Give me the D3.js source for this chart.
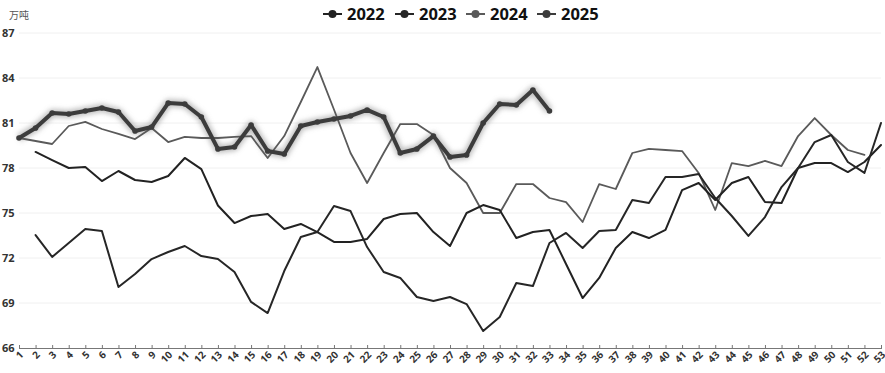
<!DOCTYPE html>
<html><head><meta charset="utf-8">
<script src="https://cdn.jsdelivr.net/npm/d3@7"></script>
<style>body{margin:0;background:#fff}svg{display:block}</style>
</head><body>
<svg id="c" width="885" height="373"></svg>
<script>
const weeks = d3.range(1, 54);
const yTicks = [66, 69, 72, 75, 78, 81, 84, 87];
const unitLabel = "万吨";
const seriesNames = ["2022", "2023", "2024", "2025"];
const s2022 = [null, 79.07, 78.53, 78.0, 78.07, 77.13, 77.8, 77.2, 77.07, 77.47, 78.67, 77.93, 75.5, 74.33, 74.8, 74.93, 73.93, 74.27, 73.73, 73.07, 73.07, 73.27, 74.6, 74.93, 75.0, 73.73, 72.8, 75.0, 75.53, 75.2, 73.33, 73.73, 73.87, 71.6, 69.33, 70.67, 72.67, 73.73, 73.33, 73.87, 76.53, 77.0, 75.87, 77.0, 77.4, 75.73, 75.67, 78.0, 78.33, 78.33, 77.73, 78.4, 79.53];
const s2023 = [null, 73.53, 72.07, 73.0, 73.93, 73.8, 70.07, 70.93, 71.93, 72.4, 72.8, 72.13, 71.93, 71.07, 69.07, 68.33, 71.13, 73.4, 73.73, 75.47, 75.13, 72.73, 71.07, 70.67, 69.4, 69.13, 69.4, 68.93, 67.13, 68.07, 70.33, 70.13, 73.0, 73.67, 72.67, 73.8, 73.87, 75.87, 75.67, 77.4, 77.4, 77.6, 76.0, 74.8, 73.47, 74.73, 76.73, 78.0, 79.73, 80.2, 78.4, 77.67, 81.0];
const s2024 = [80.0, 79.8, 79.6, 80.8, 81.07, 80.6, 80.27, 79.93, 80.67, 79.73, 80.07, 80.0, 80.0, 80.07, 80.13, 78.67, 80.13, 82.4, 84.73, 81.9, 79.0, 77.0, 79.0, 80.93, 80.93, 80.2, 78.0, 77.0, 75.0, 75.0, 76.93, 76.93, 76.0, 75.73, 74.4, 76.93, 76.6, 79.0, 79.27, 79.2, 79.13, 77.67, 75.2, 78.33, 78.13, 78.47, 78.13, 80.13, 81.33, 80.2, 79.2, 78.87];
const s2025 = [80.0, 80.67, 81.67, 81.6, 81.8, 82.0, 81.73, 80.47, 80.73, 82.33, 82.27, 81.4, 79.27, 79.4, 80.87, 79.13, 78.93, 80.8, 81.07, 81.27, 81.47, 81.87, 81.4, 79.0, 79.27, 80.13, 78.73, 78.87, 81.0, 82.27, 82.2, 83.2, 81.8];

const colors = ["#222222", "#262626", "#5a5a5a", "#3c3c3c"];
const widths = [2, 2, 1.8, 4];
const allSeries = [s2022, s2023, s2024, s2025];

const svg = d3.select("#c");
const defs = svg.append("defs");
const f = defs.append("filter").attr("id", "glow").attr("x", "-10%").attr("y", "-30%").attr("width", "120%").attr("height", "160%");
f.append("feGaussianBlur").attr("stdDeviation", 2.5);

const x = d3.scalePoint().domain(weeks).range([19, 881]);
const y = d3.scaleLinear().domain([66, 87]).range([348, 33]);

// gridlines
svg.append("g").selectAll("line").data(yTicks.slice(1)).join("line")
  .attr("x1", 19).attr("x2", 881).attr("y1", d => y(d)).attr("y2", d => y(d))
  .attr("stroke", "#f0f0f0").attr("stroke-width", 1);

// y labels
svg.append("g").selectAll("text").data(yTicks).join("text")
  .attr("x", 2).attr("y", d => y(d)).attr("dy", "0.35em")
  .attr("font-family", "Open Sans, sans-serif").attr("font-weight", "bold")
  .attr("font-size", 11).attr("fill", "#333").text(d => d);

svg.append("text").attr("x", 9).attr("y", 19)
  .attr("font-family", "Noto Sans CJK SC, sans-serif").attr("font-size", 10)
  .attr("fill", "#555").text(unitLabel);

// x axis
const xa = svg.append("g").attr("transform", "translate(0,348)")
  .call(d3.axisBottom(x).tickSize(4).tickSizeOuter(0));
xa.select(".domain").attr("stroke", "#777");
xa.selectAll(".tick line").attr("stroke", "#777").attr("y1", -3).attr("y2", 1);
xa.selectAll(".tick text")
  .attr("font-family", "Open Sans, sans-serif").attr("font-weight", "bold")
  .attr("font-size", 10).attr("fill", "#333")
  .attr("text-anchor", "end").attr("dy", "0.35em")
  .attr("transform", "translate(2,5) rotate(-45)").attr("y", 0).attr("x", 0);

const line = d3.line().defined(d => d.v != null).x(d => x(d.w)).y(d => y(d.v));
const toPts = arr => arr.map((v, i) => ({ w: weeks[i], v }));

// 2025 glow
svg.append("path").datum(toPts(s2025)).attr("d", line)
  .attr("fill", "none").attr("stroke", "#8a8a8a").attr("stroke-width", 8)
  .attr("stroke-opacity", 0.55).attr("filter", "url(#glow)")
  .attr("stroke-linejoin", "round");

[2, 0, 1, 3].forEach(i => {
  svg.append("path").datum(toPts(allSeries[i])).attr("d", line)
    .attr("fill", "none").attr("stroke", colors[i]).attr("stroke-width", widths[i])
    .attr("stroke-linejoin", "round").attr("stroke-linecap", "round");
});
svg.append("g").selectAll("circle").data(toPts(s2025)).join("circle")
  .attr("cx", d => x(d.w)).attr("cy", d => y(d.v)).attr("r", 2.8).attr("fill", colors[3]);

// legend
const lg = svg.append("g");
const legX = [323, 395, 466, 537];
seriesNames.forEach((n, i) => {
  const g = lg.append("g").attr("transform", `translate(${legX[i]},14)`);
  g.append("line").attr("x1", 0).attr("x2", 19).attr("stroke", colors[i]).attr("stroke-width", 2);
  g.append("circle").attr("cx", 9.5).attr("r", 4).attr("fill", colors[i]);
  g.append("text").attr("x", 24).attr("dy", "0.36em")
    .attr("font-family", "Open Sans, sans-serif").attr("font-weight", "bold")
    .attr("font-size", 16.5).attr("fill", "#111").text(n);
});
</script>
</body></html>
